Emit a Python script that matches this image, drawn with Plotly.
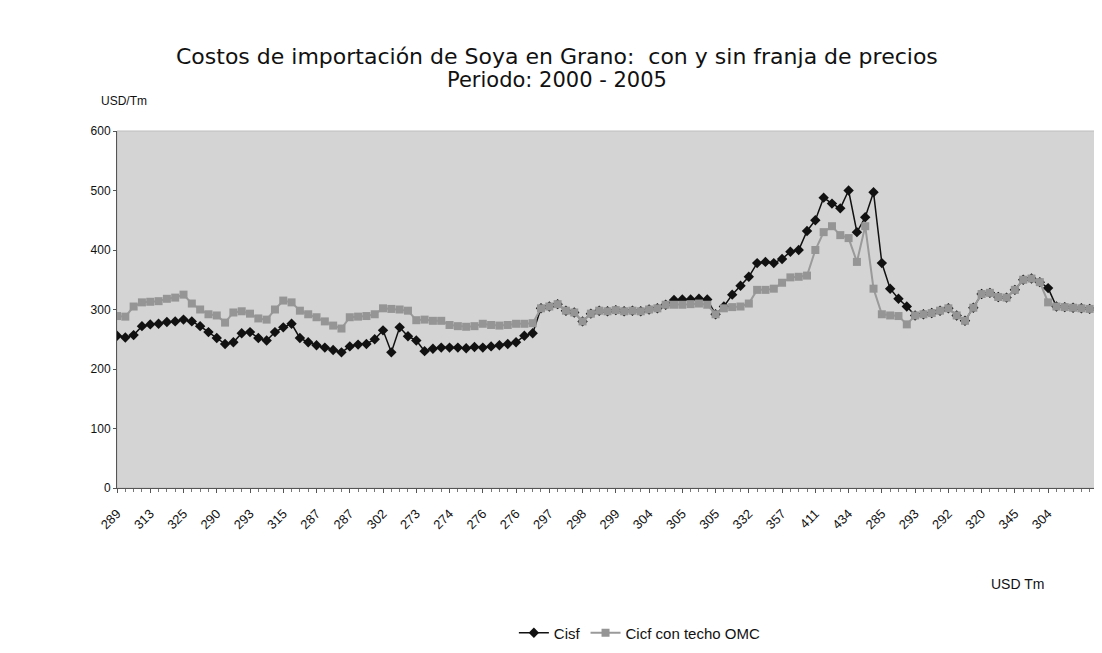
import plotly.graph_objects as go

# semanas (indice de categoria), etiquetas cada 4 puntos
etiquetas = ["289", "313", "325", "290", "293", "315", "287", "287", "302", "273",
             "274", "276", "276", "297", "298", "299", "304", "305", "305", "332",
             "357", "411", "434", "285", "293", "292", "320", "345", "304"]

cif_techo = [289, 288, 305, 312, 313, 314, 318, 320, 325, 310,
             300, 292, 290, 278, 295, 297, 293, 285, 283, 300,
             315, 312, 298, 292, 287, 280, 273, 268, 287, 288,
             289, 292, 302, 301, 300, 298, 282, 283, 281, 281,
             274, 272, 271, 272, 276, 274, 273, 274, 276, 276,
             277, 302, 305, 309, 298, 295, 280, 293, 298, 297,
             299, 297, 298, 297, 300, 302, 308, 308, 308, 309,
             310, 308, 292, 302, 304, 305, 310, 333, 333, 335,
             345, 354, 355, 357, 400, 430, 440, 425, 420, 380,
             440, 335, 292, 290, 289, 275, 290, 292, 294, 298,
             302, 290, 281, 303, 326, 328, 321, 320, 333, 350,
             352, 346, 312, 305, 304, 303, 302, 301, 300]

cisf = [256, 253, 257, 272, 275, 276, 279, 280, 283, 280,
        272, 262, 252, 242, 245, 260, 262, 252, 248, 262,
        270, 276, 252, 245, 240, 236, 232, 228, 238, 241,
        242, 250, 265, 228, 270, 255, 248, 230, 234, 236,
        236, 236, 235, 237, 236, 238, 240, 242, 245, 256,
        260, 302, 305, 309, 298, 295, 280, 293, 298, 297,
        299, 297, 298, 297, 300, 302, 308, 316, 317, 317,
        318, 317, 292, 305, 325, 340, 355, 378, 380, 378,
        385, 397, 400, 432, 450, 488, 478, 470, 500, 430,
        455, 497, 378, 335, 318, 305, 290, 292, 294, 298,
        302, 290, 281, 303, 326, 328, 321, 320, 333, 350,
        352, 346, 336, 305, 304, 303, 302, 301, 300]

x = list(range(len(cif_techo)))
tick_pos = x[::4][:len(etiquetas)]

fig = go.Figure()
fig.add_trace(go.Scatter(
    x=x, y=cisf, name="Cisf", mode="lines+markers",
    line=dict(color="#111111", width=1.5),
    marker=dict(symbol="diamond", size=8, color="#111111"),
))
fig.add_trace(go.Scatter(
    x=x, y=cif_techo, name="Cicf con techo OMC", mode="lines+markers",
    line=dict(color="#9a9a9a", width=2),
    marker=dict(symbol="square", size=8, color="#959595"),
))

fig.update_layout(
    width=1102, height=653,
    margin=dict(l=109, r=12, t=123, b=156),
    paper_bgcolor="white", plot_bgcolor="#d4d4d4",
    font=dict(family="Liberation Sans, Arial", size=12, color="#111111"),
    legend=dict(orientation="h", x=0.533, xanchor="center", y=-0.406, yanchor="middle",
                font=dict(size=15), bgcolor="rgba(0,0,0,0)"),
    showlegend=True,
)
fig.update_xaxes(
    range=[0, len(x) - 1], tickmode="array", tickvals=tick_pos, ticktext=etiquetas,
    tickangle=-45, showgrid=False, zeroline=False,
    showline=True, linecolor="#555555", linewidth=1,
    ticks="outside", ticklen=4, tickcolor="#555555", ticklabelstandoff=8,
    minor=dict(tickmode="linear", tick0=0, dtick=1, ticks="outside", ticklen=3, tickcolor="#777777"),
    tickfont=dict(size=13),
)
fig.update_yaxes(
    range=[0, 600], dtick=100, showgrid=False, zeroline=False,
    showline=True, linecolor="#555555", linewidth=1,
    ticks="outside", ticklen=3, tickcolor="#555555",
    tickfont=dict(size=12),
)
# borde claro del area de trazado
fig.add_shape(type="rect", xref="paper", yref="paper", x0=0, y0=0, x1=1, y1=1,
              line=dict(color="#bdbdbd", width=1), layer="below")

fig.add_annotation(text="Costos de importación de Soya en Grano:  con y sin franja de precios",
                   xref="paper", yref="paper", x=0.449, y=1.209, xanchor="center", yanchor="middle",
                   showarrow=False, font=dict(family="DejaVu Sans", size=22))
fig.add_annotation(text="Periodo: 2000 - 2005",
                   xref="paper", yref="paper", x=0.449, y=1.142, xanchor="center", yanchor="middle",
                   showarrow=False, font=dict(family="DejaVu Sans", size=21))
fig.add_annotation(text="USD/Tm", xref="paper", yref="paper", x=-0.018, y=1.083,
                   xanchor="left", yanchor="middle", showarrow=False, font=dict(size=12))
fig.add_annotation(text="USD Tm", xref="paper", yref="paper", x=0.918, y=-0.27,
                   xanchor="center", yanchor="middle", showarrow=False, font=dict(size=14))

fig.write_html("out.html")
